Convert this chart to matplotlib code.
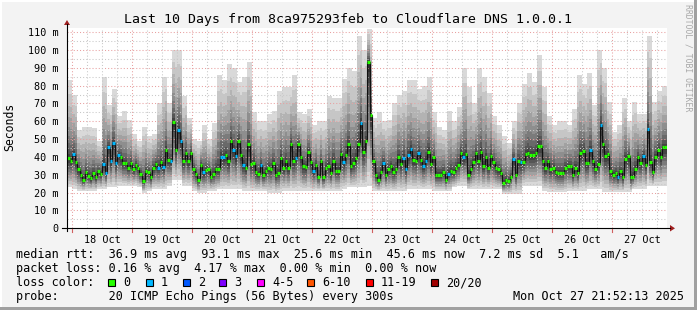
import numpy as np
import matplotlib.pyplot as plt
from matplotlib.patches import Rectangle, Polygon
from matplotlib.lines import Line2D

W, H = 697, 310

# hourly median rtt (ms), Oct 17 21:52 -> Oct 27 21:52
median_ms = [
    39.5, 38, 41.5, 37, 33, 30, 27, 31.5, 29.5, 28,
    31, 28.5, 32, 30.5, 36, 31, 45.5, 37.5, 48, 36.5,
    41, 40, 36.5, 36.5, 34, 36.5, 33, 35.5, 34, 30.5,
    26.5, 32, 31.5, 28.5, 34, 36, 34, 37, 34.5, 44,
    38.5, 38, 59.6, 44, 55, 49, 37.5, 42, 37.5, 42.5,
    33.5, 30.5, 27, 35.5, 31.5, 32.5, 33, 29, 30.5, 33.5,
    33, 40, 40, 41, 37.5, 49, 44, 40.5, 49, 41,
    35.5, 34, 47, 36, 36.5, 31.5, 30.5, 35.5, 30, 32,
    34, 33, 36.5, 30, 31, 39.5, 34, 37.5, 34, 47,
    38, 39.5, 47, 40, 35, 34.5, 43, 37, 32, 35.5,
    29, 37.5, 28.5, 34, 35, 31, 38, 32, 32, 41.5,
    37, 41, 47, 35, 36.5, 39.5, 47, 59, 43, 49,
    93.1, 63.5, 37.5, 30, 27, 31.5, 36.5, 30, 33, 35,
    31.5, 33, 40, 36, 39.5, 33, 41, 44.5, 38.5, 38,
    42, 38.5, 35, 38, 43, 36, 40, 30, 30, 30,
    31.5, 27, 30.5, 32, 31.5, 34, 35.5, 42.5, 40, 41.5,
    30, 33, 37, 42, 38, 43, 35, 40, 34, 40.5,
    37, 34, 33, 31, 25.6, 27, 26.5, 29, 39, 30,
    38, 37, 37, 41.5, 42.5, 41, 41, 42, 46, 46,
    38, 34, 37.5, 33.5, 34, 31.5, 31, 31, 31, 34,
    35, 35, 30, 34, 31, 42, 43.5, 36.5, 36.5, 44,
    37.5, 33.5, 36, 58, 47, 40.5, 41.5, 32, 30, 31,
    28.5, 32, 28.5, 39, 40.5, 28.5, 29, 33.5, 40, 36.5,
    40.5, 35.5, 55.5, 37, 31.5, 40, 44, 40, 45.5, 45.6,
]
# hours where 1 of 20 pings was lost
loss_hours = [2, 14, 15, 16, 17, 18, 19, 20, 36, 38, 41, 44, 45, 54, 61, 62,
              66, 67, 70, 77, 91, 98, 110, 117, 126, 134, 135, 136, 137, 140,
              142, 143, 152, 158, 178, 181, 209, 213, 220, 230, 232]

# smoke envelope, one value per 2 hours
smoke_max = [
    83, 75, 55, 57, 57, 56, 49, 85, 69, 78, 63, 66, 61, 53, 49, 57, 52, 53, 70, 85,
    70, 100, 100, 74, 62, 50, 49, 58, 50, 59, 86, 83, 92, 90, 82, 85, 93, 65, 60, 60,
    64, 66, 77, 79, 79, 86, 65, 64, 67, 58, 60, 60, 74, 73, 73, 84, 90, 88, 108, 100,
    112, 62, 65, 60, 61, 70, 75, 77, 83, 83, 78, 80, 85, 65, 57, 55, 66, 60, 68, 90,
    79, 70, 90, 85, 76, 63, 58, 52, 48, 60, 70, 81, 87, 82, 97, 79, 63, 58, 60, 60,
    58, 67, 86, 81, 87, 69, 100, 90, 71, 54, 58, 73, 60, 71, 64, 64, 108, 71, 77, 80,
]
smoke_min = [
    23, 22, 21, 21, 21, 21, 22, 22, 23, 23, 24, 24, 24, 24, 23, 20, 21, 22, 22, 22,
    24, 27, 27, 24, 24, 21, 20, 20, 21, 21, 22, 22, 22, 22, 22, 21, 21, 21, 21, 21,
    20, 20, 20, 21, 21, 21, 21, 21, 21, 21, 21, 21, 21, 21, 21, 22, 23, 23, 23, 23,
    24, 21, 21, 21, 21, 21, 21, 21, 22, 22, 22, 22, 22, 21, 21, 21, 21, 23, 24, 24,
    22, 22, 22, 22, 22, 22, 22, 19.5, 19.5, 19.5, 19.5, 24, 24, 24, 24, 21, 20.5, 20.5, 20.5, 20.5,
    21, 21, 21, 21, 22, 22, 22, 20.5, 20.5, 20.5, 20.5, 20.5, 20.5, 22, 22, 22, 24, 24, 24, 24,
]

day_labels = ['18 Oct', '19 Oct', '20 Oct', '21 Oct', '22 Oct',
              '23 Oct', '24 Oct', '25 Oct', '26 Oct', '27 Oct']
ytick_vals = list(range(0, 111, 10))
ytick_labels = ['0'] + ['%d m' % v for v in range(10, 111, 10)]

loss_names = ['0', '1', '2', '3', '4-5', '6-10', '11-19', '20/20']
loss_colors = ['#26ff00', '#00b8ff', '#0059ff', '#7e00ff',
               '#ff00ff', '#ff5500', '#ff0000', '#a10000']

MONO = 'DejaVu Sans Mono'


def fx(x):
    return x / W


def fy(y):
    return 1 - y / H


fig = plt.figure(figsize=(W / 100, H / 100), dpi=100)
fig.patch.set_facecolor('#f3f3f3')

ax = fig.add_axes([fx(67), fy(228.3), 600 / W, 200 / H])
ax.set_facecolor('white')
for s in ax.spines.values():
    s.set_visible(False)

t0 = (21 + 52 / 60 + 13 / 3600) / 24  # days since Oct 17 00:00
ax.set_xlim(t0, t0 + 10)
ax.set_ylim(0, 200 / 1.783)

# smoke
med = np.array(median_ms)
hi = np.maximum(np.repeat(smoke_max, 2), med)
lo = np.minimum(np.repeat(smoke_min, 2), med)
edges = t0 + np.arange(len(med) + 1) / 24
n = 10
for i in range(n):
    f = 1 - i / n
    up = med + (hi - med) * f ** 1.8
    dn = med - (med - lo) * f ** 1.1
    g = 0.85 - 0.66 * i / (n - 1)
    ax.stairs(up, edges, baseline=dn, fill=True, color=str(g), lw=0, zorder=1)

# grid
minor_c, major_c = '#c8c8c8', '#e8a0a0'
for v in range(5, 112, 10):
    ax.axhline(v, color=minor_c, lw=0.75, ls=(0, (1, 2)), zorder=2)
for v in range(10, 111, 10):
    ax.axhline(v, color=major_c, lw=0.75, ls=(0, (1, 2)), zorder=2)
for q in np.arange(0.25, 11, 0.25):
    if t0 < q < t0 + 10:
        c = major_c if q % 1 == 0 else minor_c
        ax.axvline(q, color=c, lw=0.75, ls=(0, (1, 2)), zorder=2)

# median line with loss colors
ax.stairs(med, edges, baseline=None, color='#111111', lw=0.8, zorder=3)
cols = [loss_colors[1] if j in loss_hours else loss_colors[0] for j in range(len(med))]
ax.hlines(med, edges[:-1], edges[1:], colors=cols, lw=2.3, zorder=4, capstyle='butt')

ax.set_yticks(ytick_vals, ytick_labels, fontfamily=MONO, fontsize=7.3)
ax.set_xticks(np.arange(1.5, 11.5, 1), day_labels, fontfamily=MONO, fontsize=7.3)
ax.tick_params(axis='y', length=0, pad=6)
ax.tick_params(axis='x', length=0, pad=5)

# axes lines + arrows
fig.add_artist(Line2D([fx(62), fx(670)], [fy(228.3), fy(228.3)], color='black', lw=0.8))
fig.add_artist(Line2D([fx(67), fx(67)], [fy(231), fy(24)], color='black', lw=0.8))
for d in range(1, 11):
    xp = 67 + (d - t0) * 60
    fig.add_artist(Line2D([fx(xp), fx(xp)], [fy(229), fy(232)], color='#d06060', lw=0.8))
fig.add_artist(Polygon([[fx(64), fy(25)], [fx(70), fy(25)], [fx(67), fy(20)]],
                       closed=True, color='#a02020', lw=0))
fig.add_artist(Polygon([[fx(670), fy(225)], [fx(670), fy(231.5)], [fx(675), fy(228.3)]],
                       closed=True, color='#a02020', lw=0))

# frame
fig.add_artist(Rectangle((0, fy(2)), 1, fy(0) - fy(2), color='white', lw=0))
fig.add_artist(Rectangle((0, 0), fx(2), 1, color='white', lw=0))
fig.add_artist(Rectangle((fx(694), 0), 1, 1, color='#a0a0a0', lw=0))
fig.add_artist(Rectangle((0, 0), 1, fy(307), color='#a0a0a0', lw=0))

# texts
fig.text(fx(348), fy(19), 'Last 10 Days from 8ca975293feb to Cloudflare DNS 1.0.0.1',
         ha='center', va='center', fontsize=9.5, family=MONO)
fig.text(fx(10), fy(127), 'Seconds', rotation=90, ha='center', va='center',
         fontsize=8.3, family=MONO)
fig.text(fx(688), fy(4), 'RRDTOOL / TOBI OETIKER', rotation=270, ha='center', va='top',
         fontsize=5.9, family=MONO, color='#a8a8a8')

lines = [
    'median rtt:  36.9 ms avg  93.1 ms max  25.6 ms min  45.6 ms now  7.2 ms sd  5.1   am/s',
    'packet loss: 0.16 % avg  4.17 % max  0.00 % min  0.00 % now',
    'loss color:',
    'probe:       20 ICMP Echo Pings (56 Bytes) every 300s',
]
for k, s in enumerate(lines):
    fig.text(fx(16), fy(254.5 + 14 * k), s, ha='left', va='center', fontsize=8.5, family=MONO)
fig.text(fx(513), fy(296.5), 'Mon Oct 27 21:52:13 2025', ha='left', va='center',
         fontsize=8.5, family=MONO)

box_x = [108, 146, 183, 219, 257, 307, 366, 431]
for bx, name, c in zip(box_x, loss_names, loss_colors):
    fig.add_artist(Rectangle((fx(bx), fy(285.5)), 7 / W, 7 / H, facecolor=c,
                             edgecolor='black', lw=0.8))
    fig.text(fx(bx + 15), fy(282.5), name, ha='left', va='center', fontsize=8.5, family=MONO)

fig.savefig('out.png', dpi=100, facecolor=fig.get_facecolor())
